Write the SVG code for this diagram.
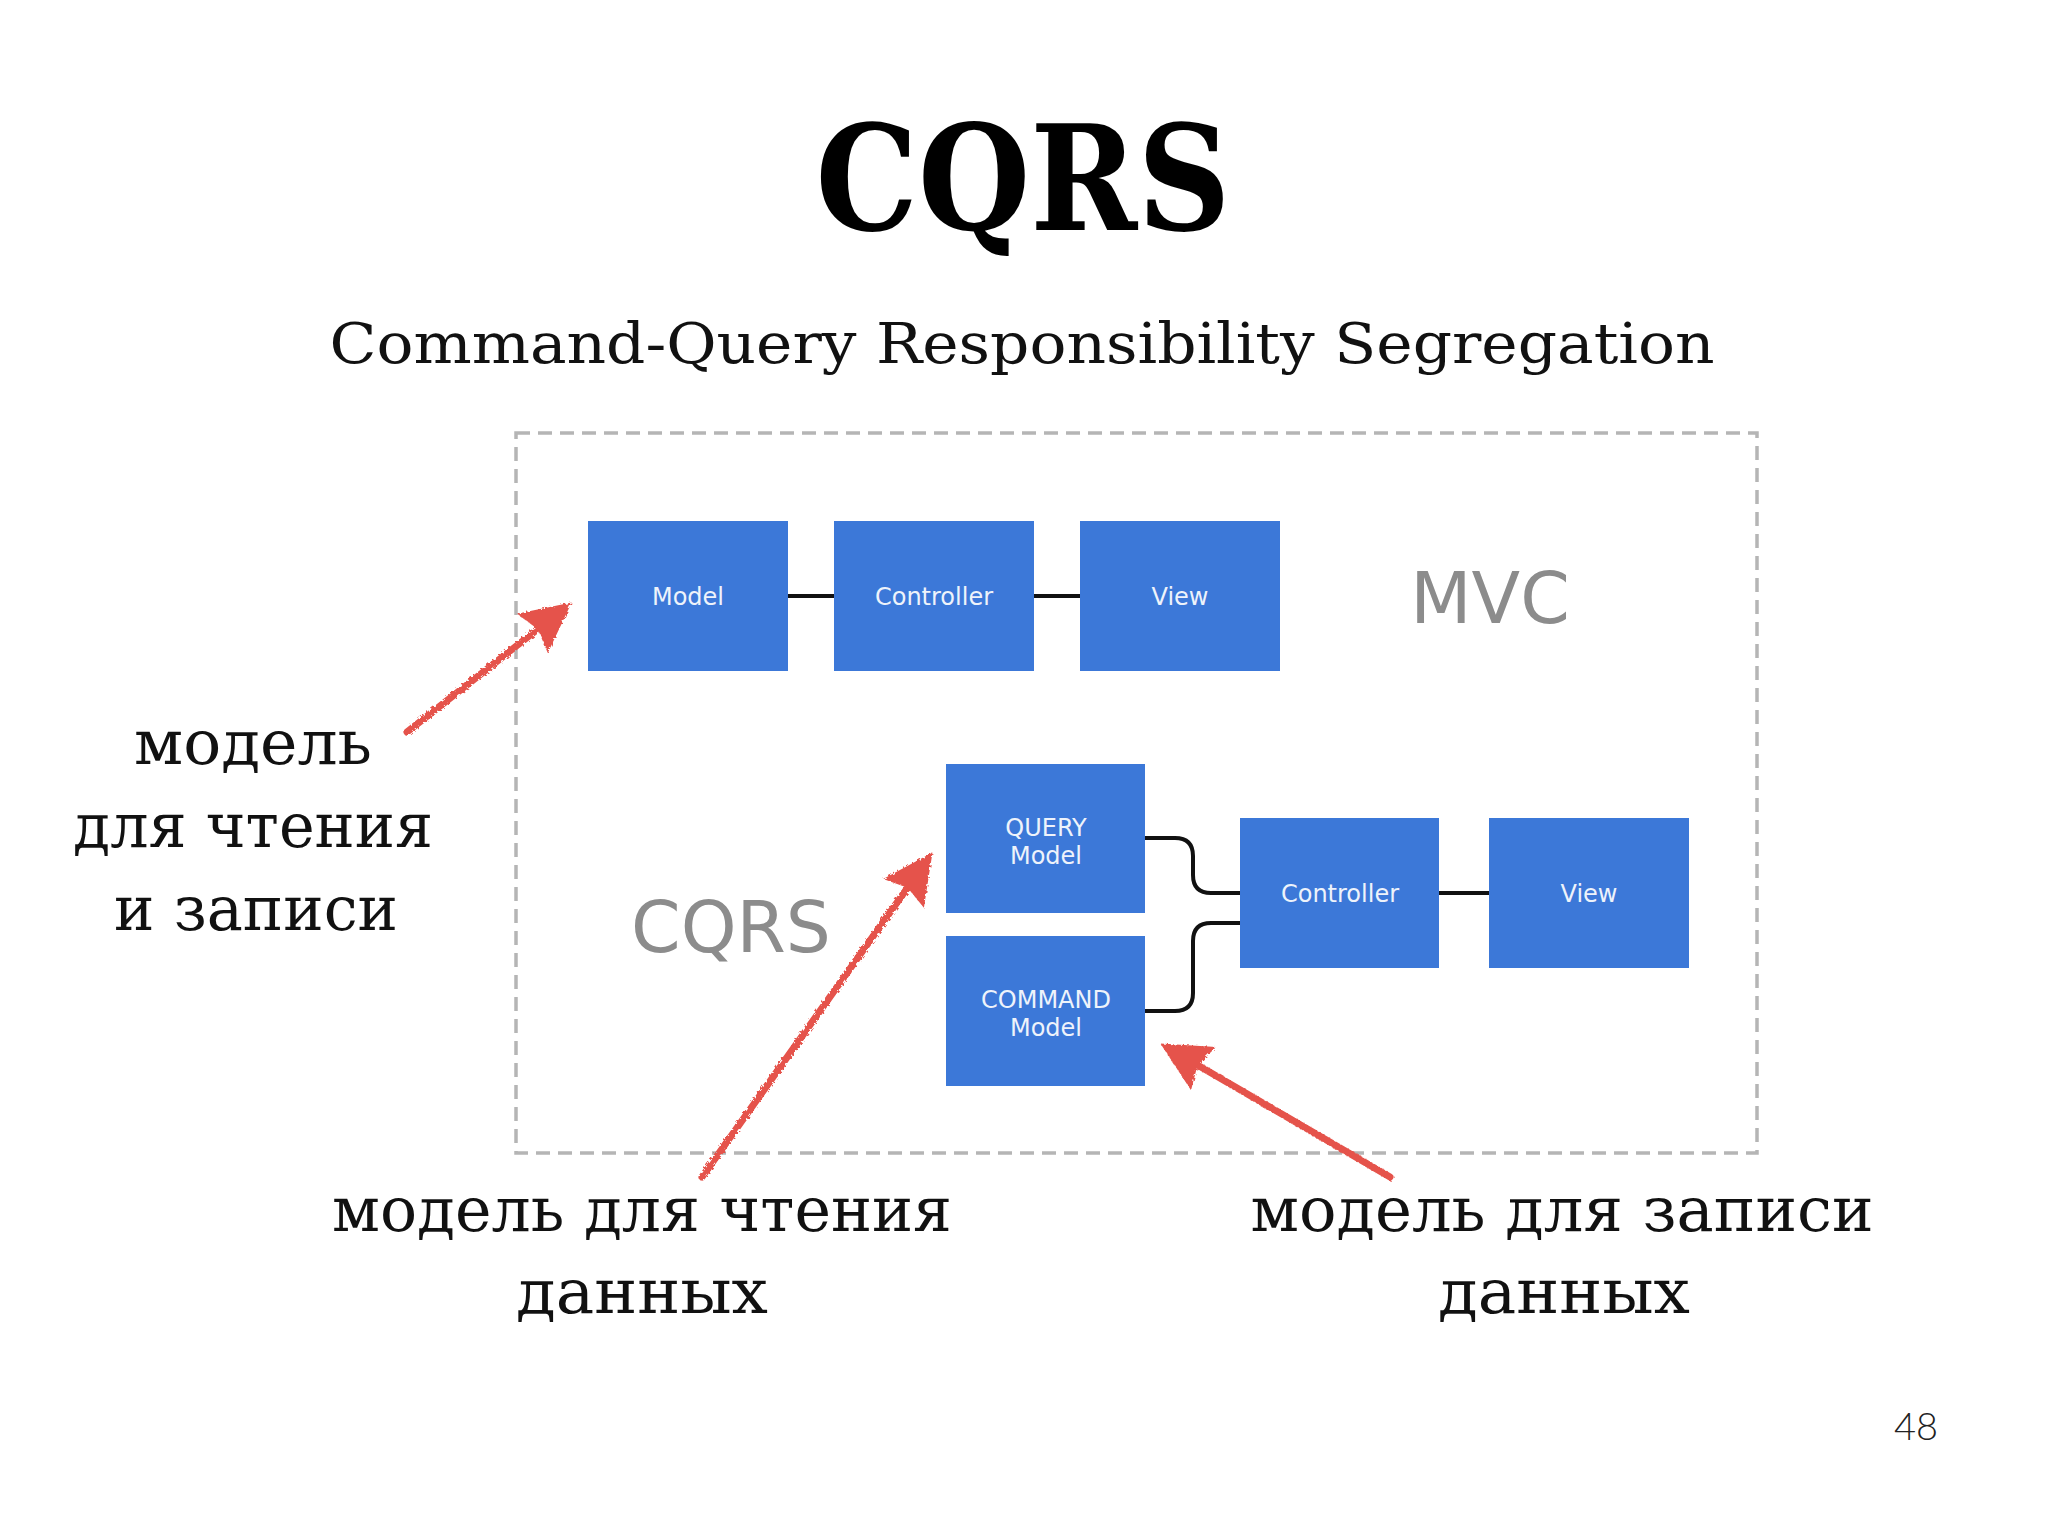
<svg xmlns="http://www.w3.org/2000/svg" width="2048" height="1536" viewBox="0 0 2048 1536">
<style>
.box{fill:#3c78d8}
.lbl{font-family:"DejaVu Sans",Verdana,sans-serif;font-size:24px;fill:#eef3fb;text-anchor:middle}
.big{font-family:"DejaVu Sans",Verdana,sans-serif;font-size:71px;fill:#8c8c8c;text-anchor:middle}
.ru{font-family:"DejaVu Serif","Liberation Serif",serif;font-size:62px;fill:#111;text-anchor:middle}
.conn{fill:none;stroke:#111;stroke-width:4}
.arrow{fill:none;stroke:#e5534b;stroke-width:7;stroke-linecap:round}
</style>
<defs>
<marker id="head" markerUnits="userSpaceOnUse" markerWidth="60" markerHeight="60" viewBox="-50 -30 60 60" refX="-25" refY="0" orient="auto">
<path d="M0,0 L-50,-25 L-43,0 L-50,25 Z" fill="#e5534b"/>
</marker>
<filter id="rough" x="-10%" y="-10%" width="120%" height="120%">
<feTurbulence type="fractalNoise" baseFrequency="0.35" numOctaves="2" seed="3"/>
<feDisplacementMap in="SourceGraphic" scale="4"/>
</filter>
</defs>
<rect width="2048" height="1536" fill="#ffffff"/>

<text x="1023" y="230" font-family="DejaVu Serif,serif" font-weight="bold" font-size="146" text-anchor="middle" textLength="415" lengthAdjust="spacingAndGlyphs" fill="#000">CQRS</text>
<text x="1022" y="363" font-family="DejaVu Serif,serif" font-size="56" text-anchor="middle" textLength="1385" lengthAdjust="spacingAndGlyphs" fill="#111">Command-Query Responsibility Segregation</text>

<rect x="516" y="433" width="1241" height="720" fill="none" stroke="#b5b5b5" stroke-width="3.5" stroke-dasharray="14 8"/>

<text class="big" x="1490" y="623">MVC</text>
<text class="big" x="731" y="952">CQRS</text>

<g id="connectors">
<line class="conn" x1="788" y1="596" x2="834" y2="596"/>
<line class="conn" x1="1034" y1="596" x2="1080" y2="596"/>
<path class="conn" d="M1145,838 H1175 Q1193,838 1193,856 V875 Q1193,893 1211,893 H1240"/>
<path class="conn" d="M1240,923 H1211 Q1193,923 1193,941 V993 Q1193,1011 1175,1011 H1145"/>
<line class="conn" x1="1439" y1="893" x2="1489" y2="893"/>
</g>

<g id="mvc-model"><rect class="box" x="588" y="521" width="200" height="150"/><text class="lbl" x="688" y="605">Model</text></g>
<g id="mvc-controller"><rect class="box" x="834" y="521" width="200" height="150"/><text class="lbl" x="934" y="605">Controller</text></g>
<g id="mvc-view"><rect class="box" x="1080" y="521" width="200" height="150"/><text class="lbl" x="1180" y="605">View</text></g>

<g id="query-model"><rect class="box" x="946" y="764" width="199" height="149"/><text class="lbl" x="1046" y="836">QUERY</text><text class="lbl" x="1046" y="864">Model</text></g>
<g id="command-model"><rect class="box" x="946" y="936" width="199" height="150"/><text class="lbl" x="1046" y="1008">COMMAND</text><text class="lbl" x="1046" y="1036">Model</text></g>
<g id="cqrs-controller"><rect class="box" x="1240" y="818" width="199" height="150"/><text class="lbl" x="1340" y="902">Controller</text></g>
<g id="cqrs-view"><rect class="box" x="1489" y="818" width="200" height="150"/><text class="lbl" x="1589" y="902">View</text></g>

<g id="annotations" filter="url(#rough)">
<path class="arrow" d="M407,732 L552,618" marker-end="url(#head)"/>
<path class="arrow" d="M702,1177 L918,873" marker-end="url(#head)"/>
<path class="arrow" d="M1390,1177 L1182,1056" marker-end="url(#head)"/>
</g>

<g id="labels">
<text class="ru" x="253" y="764" textLength="238" lengthAdjust="spacingAndGlyphs">модель</text>
<text class="ru" x="253" y="847" textLength="360" lengthAdjust="spacingAndGlyphs">для чтения</text>
<text class="ru" x="256" y="930" textLength="284" lengthAdjust="spacingAndGlyphs">и записи</text>
<text class="ru" x="642" y="1231" textLength="620" lengthAdjust="spacingAndGlyphs">модель для чтения</text>
<text class="ru" x="642" y="1313" textLength="252" lengthAdjust="spacingAndGlyphs">данных</text>
<text class="ru" x="1562" y="1231" textLength="623" lengthAdjust="spacingAndGlyphs">модель для записи</text>
<text class="ru" x="1564" y="1313" textLength="252" lengthAdjust="spacingAndGlyphs">данных</text>
</g>

<text x="1916" y="1440" font-family="Lato,'Open Sans',sans-serif" font-weight="300" font-size="38" text-anchor="middle" fill="#222">48</text>
</svg>
